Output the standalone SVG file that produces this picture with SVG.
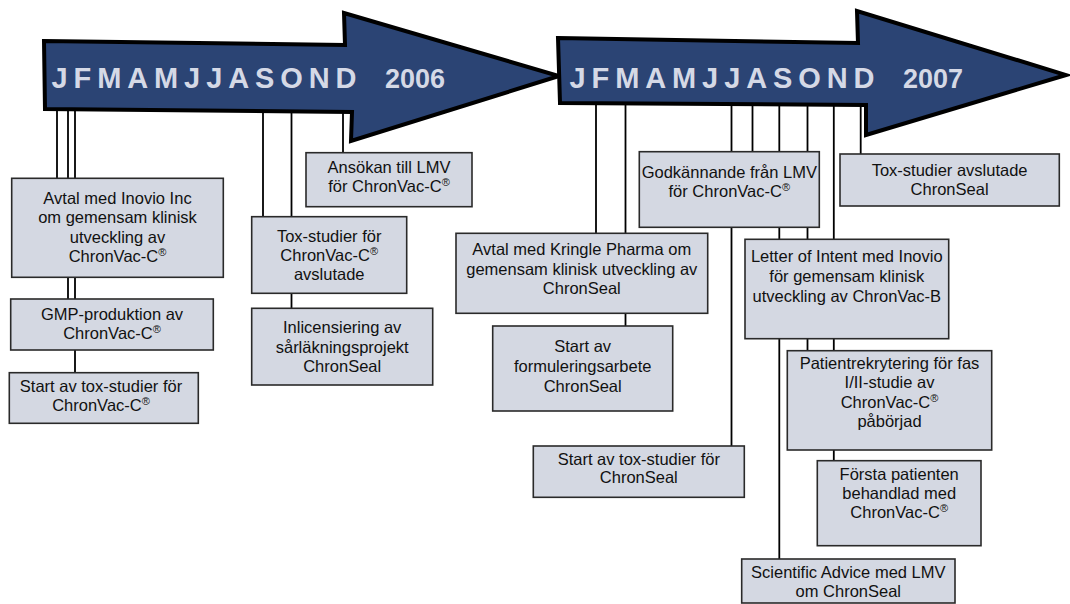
<svg xmlns="http://www.w3.org/2000/svg" width="1070" height="604" viewBox="0 0 1070 604">
<style>
.bg{fill:#ffffff}
.arrow{fill:#2b4474;stroke:#000;stroke-width:4;stroke-linejoin:miter}
.mon{font-family:"Liberation Sans",Arial,sans-serif;font-weight:bold;font-size:29px;fill:#d5d9e6}
.yr{font-family:"Liberation Sans",Arial,sans-serif;font-weight:bold;font-size:27px;fill:#d5d9e6}
.box{fill:#d4d8e2;stroke:#2a2a2a;stroke-width:1.6}
.t{font-family:"Liberation Sans",Arial,sans-serif;font-size:16.5px;fill:#111;text-anchor:middle}
.sup{font-size:11px}
.c line{stroke:#000;stroke-width:1.8}
</style>
<rect class="bg" x="0" y="0" width="1070" height="604"/>
<g id="connectors" class="c">
<line x1="57" y1="100" x2="57" y2="178"/>
<line x1="68" y1="100" x2="68" y2="299"/>
<line x1="75" y1="100" x2="75" y2="373"/>
<line x1="263" y1="100" x2="263" y2="217"/>
<line x1="291.5" y1="100" x2="291.5" y2="308"/>
<line x1="343" y1="100" x2="343" y2="153"/>
<line x1="596" y1="95" x2="596" y2="233"/>
<line x1="625.5" y1="95" x2="625.5" y2="326"/>
<line x1="731.5" y1="95" x2="731.5" y2="446"/>
<line x1="752.5" y1="95" x2="752.5" y2="152"/>
<line x1="779.3" y1="95" x2="779.3" y2="559"/>
<line x1="807.5" y1="95" x2="807.5" y2="351"/>
<line x1="833.8" y1="95" x2="833.8" y2="461"/>
<line x1="860.7" y1="95" x2="860.7" y2="154"/>
</g>
<g id="arrow-2006">
<polygon class="arrow" points="44,41 345,45 344,13 559,76 351,141 352,112 45,109"/>
<text class="mon" x="51.5" y="88" textLength="305" lengthAdjust="spacing">JFMAMJJASOND</text>
<text class="yr" x="385" y="88">2006</text>
</g>
<g id="arrow-2007">
<polygon class="arrow" points="558,38 858,43 857,11 1066,75 866,135 866,105 560,103"/>
<text class="mon" x="569.5" y="88" textLength="305" lengthAdjust="spacing">JFMAMJJASOND</text>
<text class="yr" x="903" y="88">2007</text>
</g>
<g id="n1">
<rect class="box" x="11.7" y="178.3" width="211.6" height="99"/>
<text class="t" x="117.5" y="204.3">Avtal med Inovio Inc</text>
<text class="t" x="117.5" y="223.3">om gemensam klinisk</text>
<text class="t" x="117.5" y="242.7">utveckling av</text>
<text class="t" x="117.5" y="261.7">ChronVac-C<tspan class="sup" dy="-6">®</tspan></text>
</g>
<g id="n2">
<rect class="box" x="10.7" y="299" width="202.6" height="51"/>
<text class="t" x="112" y="320">GMP-produktion av</text>
<text class="t" x="112" y="339">ChronVac-C<tspan class="sup" dy="-6">®</tspan></text>
</g>
<g id="n3">
<rect class="box" x="9.3" y="372.7" width="189" height="50.6"/>
<text class="t" x="101" y="392.3">Start av tox-studier för</text>
<text class="t" x="101" y="410.7">ChronVac-C<tspan class="sup" dy="-6">®</tspan></text>
</g>
<g id="n4">
<rect class="box" x="306" y="152.7" width="166" height="54"/>
<text class="t" x="389" y="173.3">Ansökan till LMV</text>
<text class="t" x="389" y="192.3">för ChronVac-C<tspan class="sup" dy="-6">®</tspan></text>
</g>
<g id="n5">
<rect class="box" x="251.7" y="216.7" width="155" height="76.6"/>
<text class="t" x="329.2" y="241.7">Tox-studier för</text>
<text class="t" x="329.2" y="260.7">ChronVac-C<tspan class="sup" dy="-6">®</tspan></text>
<text class="t" x="329.2" y="280">avslutade</text>
</g>
<g id="n6">
<rect class="box" x="251.7" y="308.3" width="181" height="76.7"/>
<text class="t" x="342.2" y="333.3">Inlicensiering av</text>
<text class="t" x="342.2" y="352.7">sårläkningsprojekt</text>
<text class="t" x="342.2" y="371.7">ChronSeal</text>
</g>
<g id="n7">
<rect class="box" x="456" y="233.3" width="251.7" height="80"/>
<text class="t" x="581.8" y="255">Avtal med Kringle Pharma om</text>
<text class="t" x="581.8" y="275">gemensam klinisk utveckling av</text>
<text class="t" x="581.8" y="294.3">ChronSeal</text>
</g>
<g id="n8">
<rect class="box" x="492.7" y="326" width="180" height="85"/>
<text class="t" x="582.7" y="351.7">Start av</text>
<text class="t" x="582.7" y="371.7">formuleringsarbete</text>
<text class="t" x="582.7" y="391.7">ChronSeal</text>
</g>
<g id="n9">
<rect class="box" x="533.3" y="446" width="211" height="51.3"/>
<text class="t" x="638.8" y="465">Start av tox-studier för</text>
<text class="t" x="638.8" y="483.3">ChronSeal</text>
</g>
<g id="n10">
<rect class="box" x="639.3" y="151.7" width="180" height="75.6"/>
<text class="t" x="729.3" y="178.3">Godkännande från LMV</text>
<text class="t" x="729.3" y="197.3">för ChronVac-C<tspan class="sup" dy="-6">®</tspan></text>
</g>
<g id="n11">
<rect class="box" x="840" y="154" width="219.3" height="52"/>
<text class="t" x="949.6" y="176">Tox-studier avslutade</text>
<text class="t" x="949.6" y="195">ChronSeal</text>
</g>
<g id="n12">
<rect class="box" x="745" y="239.3" width="203.7" height="99.4"/>
<text class="t" x="846.8" y="262.3">Letter of Intent med Inovio</text>
<text class="t" x="846.8" y="281.7">för gemensam klinisk</text>
<text class="t" x="846.8" y="301.7">utveckling av ChronVac-B</text>
</g>
<g id="n13">
<rect class="box" x="787.3" y="350.7" width="204.4" height="99.3"/>
<text class="t" x="889.5" y="369.3">Patientrekrytering för fas</text>
<text class="t" x="889.5" y="388.3">I/II-studie av</text>
<text class="t" x="889.5" y="408.3">ChronVac-C<tspan class="sup" dy="-6">®</tspan></text>
<text class="t" x="889.5" y="427.3">påbörjad</text>
</g>
<g id="n14">
<rect class="box" x="817.3" y="460.7" width="163.7" height="85"/>
<text class="t" x="899.2" y="480">Första patienten</text>
<text class="t" x="899.2" y="499">behandlad med</text>
<text class="t" x="899.2" y="518.3">ChronVac-C<tspan class="sup" dy="-6">®</tspan></text>
</g>
<g id="n15">
<rect class="box" x="741.7" y="559" width="213.3" height="44"/>
<text class="t" x="848.3" y="578.3">Scientific Advice med LMV</text>
<text class="t" x="848.3" y="596.7">om ChronSeal</text>
</g>
</svg>
